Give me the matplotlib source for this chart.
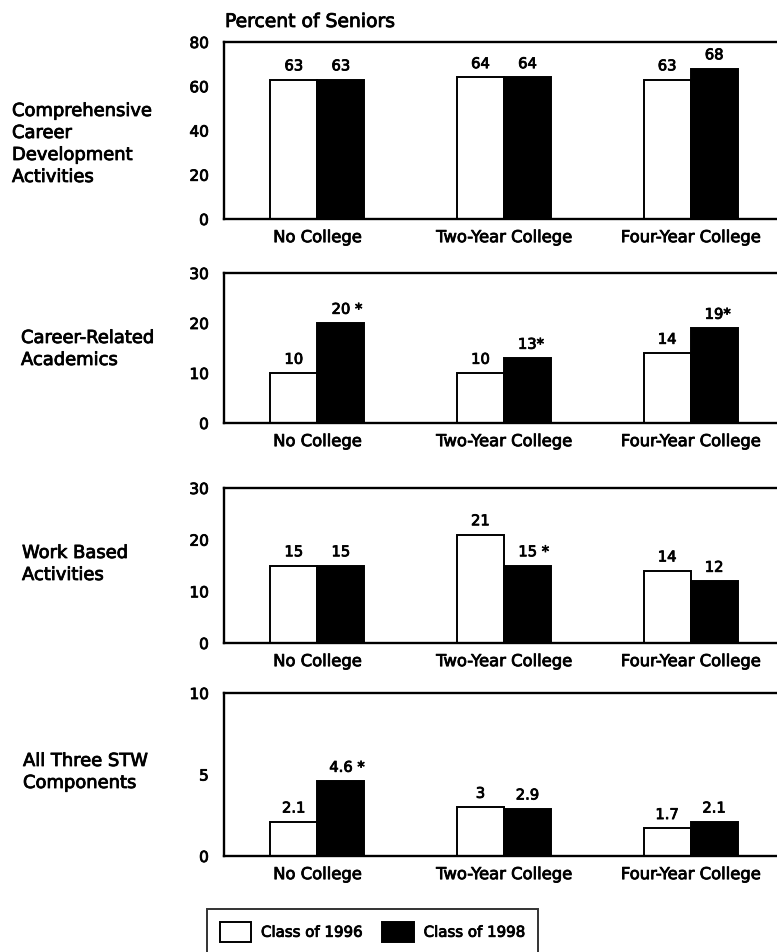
import numpy as np
import matplotlib
matplotlib.use("Agg")
import matplotlib.pyplot as plt
import matplotlib.patheffects as pe
from matplotlib.patches import Patch
from matplotlib.text import Text

plt.rcParams['font.family'] = ['DejaVu Sans']

categories = ["No College", "Two-Year College", "Four-Year College"]
series_names = ["Class of 1996", "Class of 1998"]

panel_titles = [
    ["Comprehensive", "Career", "Development", "Activities"],
    ["Career-Related", "Academics"],
    ["Work Based", "Activities"],
    ["All Three STW", "Components"],
]

comp_1996 = [63, 64, 63]
comp_1998 = [63, 64, 68]
acad_1996 = [10, 10, 14]
acad_1998 = [20, 13, 19]
work_1996 = [15, 21, 14]
work_1998 = [15, 15, 12]
all3_1996 = [2.1, 3, 1.7]
all3_1998 = [4.6, 2.9, 2.1]

# significance markers appended to the 1998 value labels
comp_mark = ["", "", ""]
acad_mark = [" *", "*", "*"]
work_mark = ["", " *", ""]
all3_mark = [" *", "", ""]

yticks_list = [[0, 20, 40, 60, 80], [0, 10, 20, 30], [0, 10, 20, 30], [0, 5, 10]]

panels = [
    (comp_1996, comp_1998, comp_mark),
    (acad_1996, acad_1998, acad_mark),
    (work_1996, work_1998, work_mark),
    (all3_1996, all3_1998, all3_mark),
]

W, H = 777, 952
fig = plt.figure(figsize=(W / 100, H / 100), dpi=100)

# panel extents in pixels: (top, bottom)
rows = [(42, 219), (273, 423), (488, 643), (693, 856)]
left_px, right_px = 224, 784
# row-label placement: (x, first baseline)
label_pos = [(12, 116), (21, 343), (22, 558), (23, 766)]
line_step = 22

bw = 0.252
x = np.arange(len(categories))

for i, ((v96, v98, marks), (top, bot), yt) in enumerate(zip(panels, rows, yticks_list)):
    ax = fig.add_axes([left_px / W, 1 - bot / H, (right_px - left_px) / W, (bot - top) / H])
    ax.bar(x - bw / 2, v96, bw, color="white", edgecolor="black", linewidth=1.4)
    ax.bar(x + bw / 2, v98, bw, color="black", edgecolor="black", linewidth=1.4)
    ax.set_xlim(-0.5, 2.5)
    ax.set_ylim(yt[0], yt[-1])
    ax.set_yticks(yt)
    ax.set_yticklabels([str(t) for t in yt], fontsize=11)
    ax.set_xticks(x)
    ax.set_xticklabels(categories, fontsize=11.8)
    ax.tick_params(length=0)
    ax.tick_params(axis="y", pad=11)
    ax.tick_params(axis="x", pad=8)
    ax.spines["right"].set_visible(False)
    for s in ("left", "top", "bottom"):
        ax.spines[s].set_linewidth(1.7)
    for xi, v in zip(x, v96):
        ax.annotate(f"{v:g}", (xi - bw / 2, v), xytext=(0, 4.5), textcoords="offset points",
                    ha="center", va="bottom", fontsize=10.6)
    for xi, v, m in zip(x, v98, marks):
        shift = 2.5 if m == "*" else (4.5 if m else 0)
        ax.annotate(f"{v:g}" + m, (xi + bw / 2, v), xytext=(shift, 4.5),
                    textcoords="offset points", ha="center", va="bottom", fontsize=10.6)
    lx, ly = label_pos[i]
    for k, line in enumerate(panel_titles[i]):
        fig.text(lx / W, 1 - (ly + k * line_step) / H, line, ha="left", va="baseline",
                 fontsize=12.9)

fig.text(225 / W, 1 - 27 / H, "Percent of Seniors", ha="left", va="baseline", fontsize=13.5)

handles = [Patch(facecolor="white", edgecolor="black", linewidth=1.4),
           Patch(facecolor="black", edgecolor="black", linewidth=1.4)]
leg = fig.legend(handles, series_names, loc="upper left",
                 bbox_to_anchor=(207 / W, 1 - 909 / H), ncol=2, fontsize=10.8,
                 frameon=True, fancybox=False, edgecolor="black",
                 handlelength=2.1, handleheight=1.7, handletextpad=0.65,
                 columnspacing=1.3, borderpad=0.85, borderaxespad=0)
leg.get_frame().set_linewidth(1.4)

# heavier type weight for all labels
for t in fig.findobj(Text):
    if t.get_text():
        t.set_path_effects([pe.withStroke(linewidth=0.6, foreground="black")])

fig.savefig("out.png", dpi=100, facecolor="white")
